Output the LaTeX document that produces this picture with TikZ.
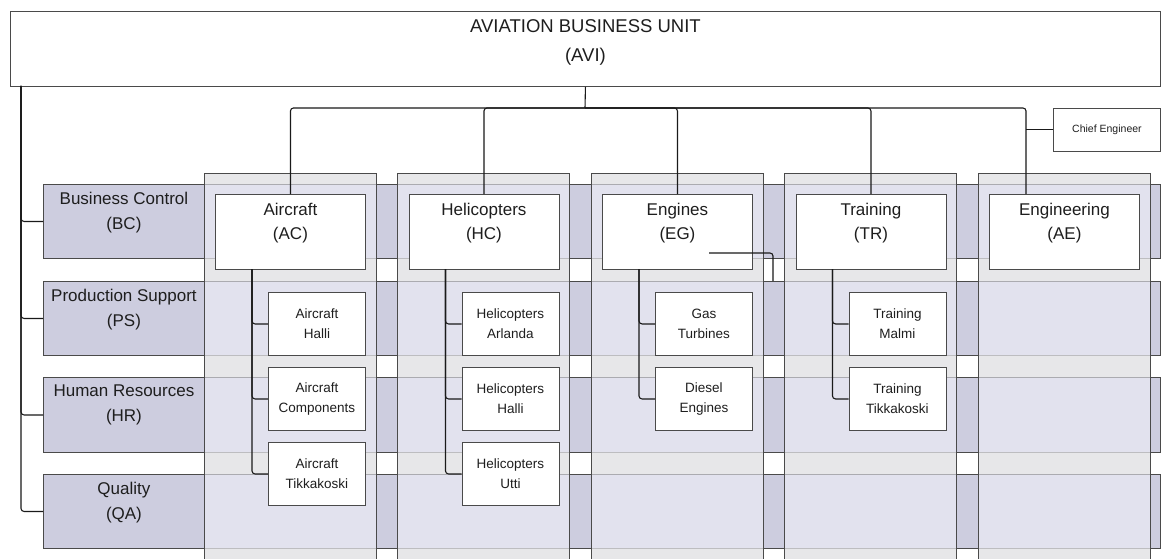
\documentclass[tikz,border=0pt]{standalone}
\usepackage{fontspec}
\setmainfont{Liberation Sans}
\usetikzlibrary{calc}
\definecolor{lineC}{HTML}{4A4A4A}
\definecolor{connC}{HTML}{1A1A1A}
\definecolor{txtC}{HTML}{1E1E1E}
\definecolor{rowC}{HTML}{CDCDDF}
\definecolor{colC}{HTML}{F2F2FA}
\definecolor{gapC}{HTML}{D4D4D4}
\begin{document}
\begin{tikzpicture}[x=1pt,y=-1pt,
  every node/.style={text=txtC},
  boxline/.style={draw=lineC, line width=0.9pt},
  avibox/.style={boxline, fill=white, anchor=north west, minimum width=1150pt, minimum height=75pt, inner sep=0pt},
  mainbox/.style={boxline, fill=white, anchor=north west, minimum width=150pt, minimum height=75pt, inner sep=0pt},
  subbox/.style={boxline, fill=white, anchor=north west, minimum width=97pt, minimum height=63pt, inner sep=0pt, align=center, font=\fontsize{13.5}{20}\selectfont},
  chiefbox/.style={boxline, fill=white, anchor=north west, minimum width=107pt, minimum height=43pt, inner sep=0pt, font=\fontsize{10.5}{12}\selectfont},
  rowlabel/.style={boxline, fill=rowC, anchor=north west, minimum width=161pt, minimum height=74pt, inner sep=0pt},
  rowband/.style={boxline, fill=rowC},
  colpanel/.style={fill=colC, fill opacity=0.58},
  colgap/.style={fill=gapC, fill opacity=0.45},
  coledge/.style={draw=lineC, line width=0.9pt},
  conn/.style={draw=connC, line width=1.1pt, rounded corners=3pt},
  bigtext/.style={anchor=north, inner sep=0pt, align=center, font=\fontsize{18.5}{29}\selectfont},
  maintext/.style={anchor=north, inner sep=0pt, align=center, font=\fontsize{17}{24}\selectfont},
  rowtext/.style={anchor=north, inner sep=0pt, align=center, font=\fontsize{17}{25}\selectfont},
]
\useasboundingbox (0,0) rectangle (1161,559);
\fill[white] (0,0) rectangle (1161,559);

% row bands
\foreach \y/\h in {184/74,281/74,377/75,474/74}
  \path[rowband] (43,\y) rectangle (1160,\y+\h);

% row labels
\node[rowlabel] (bc) at (43,184) {};
\node[rowtext] (bc-t) at ($(bc.north)+(0,7.6)$) {Business Control\\(BC)};
\node[rowlabel] (ps) at (43,281) {};
\node[rowtext] (ps-t) at ($(ps.north)+(0,7.6)$) {Production Support\\(PS)};
\node[rowlabel, minimum height=75pt] (hr) at (43,377) {};
\node[rowtext] (hr-t) at ($(hr.north)+(0,7.6)$) {Human Resources\\(HR)};
\node[rowlabel] (qa) at (43,474) {};
\node[rowtext] (qa-t) at ($(qa.north)+(0,7.6)$) {Quality\\(QA)};

% column panels
\foreach \x in {204,397.5,591,784.5,978} {
  \path[colpanel] (\x,173) rectangle (\x+172,562);
  \foreach \a/\b in {173/184,258/281,355/377,452/474,548/562}
    \path[colgap] (\x,\a) rectangle (\x+172,\b);
  \draw[coledge] (\x,562) -- (\x,173) -- (\x+172,173) -- (\x+172,562);
}

% top unit
\node[avibox] (avi) at (10,11) {};
\node[bigtext] (avi-t) at ($(avi.north)+(0,8.8)$) {AVIATION BUSINESS UNIT\\(AVI)};
\node[chiefbox] (ce) at (1053,108) {Chief Engineer};

% main boxes
\node[mainbox] (ac) at (215,194) {};
\node[maintext] (ac-t) at ($(ac.north)+(0,8.6)$) {Aircraft\\(AC)};
\node[mainbox] (hc) at (408.5,194) {};
\node[maintext] (hc-t) at ($(hc.north)+(0,8.6)$) {Helicopters\\(HC)};
\node[mainbox] (eg) at (602,194) {};
\node[maintext] (eg-t) at ($(eg.north)+(0,8.6)$) {Engines\\(EG)};
\node[mainbox] (tr) at (795.5,194) {};
\node[maintext] (tr-t) at ($(tr.north)+(0,8.6)$) {Training\\(TR)};
\node[mainbox] (ae) at (989,194) {};
\node[maintext] (ae-t) at ($(ae.north)+(0,8.6)$) {Engineering\\(AE)};

% top connectors
\coordinate (bus) at (585,108);
\coordinate (aetop) at (1026,194);
\draw[conn] (avi.south) -- (bus);
\foreach \n in {ac,hc,eg,tr} \draw[conn] (\n.north) |- (bus);
\draw[conn] (aetop) |- (bus);
\draw[conn] (ce.west) -- (ce.west -| aetop);

% sub boxes
\node[subbox] (ac1) at (268,292) {Aircraft\\Halli};
\node[subbox] (ac2) at (268,367) {Aircraft\\Components};
\node[subbox] (ac3) at (268,442) {Aircraft\\Tikkakoski};
\node[subbox] (hc1) at (461.5,292) {Helicopters\\Arlanda};
\node[subbox] (hc2) at (461.5,367) {Helicopters\\Halli};
\node[subbox] (hc3) at (461.5,442) {Helicopters\\Utti};
\node[subbox] (eg1) at (655,292) {Gas\\Turbines};
\node[subbox] (eg2) at (655,367) {Diesel\\Engines};
\node[subbox] (tr1) at (848.5,292) {Training\\Malmi};
\node[subbox] (tr2) at (848.5,367) {Training\\Tikkakoski};

\coordinate (acv) at (252,269);
\coordinate (hcv) at (445.5,269);
\coordinate (egv) at (639,269);
\coordinate (trv) at (832.5,269);
\foreach \n in {ac1,ac2,ac3} \draw[conn] (acv) |- (\n.west);
\foreach \n in {hc1,hc2,hc3} \draw[conn] (hcv) |- (\n.west);
\foreach \n in {eg1,eg2} \draw[conn] (egv) |- (\n.west);
\foreach \n in {tr1,tr2} \draw[conn] (trv) |- (\n.west);

% engines side link
\coordinate (egx) at (709,253);
\coordinate (egend) at (773,281);
\draw[conn] (egx) -| (egend);

% left spine
\coordinate (spine) at (21,86);
\foreach \n in {bc,ps,hr,qa} \draw[conn] (spine) |- (\n.west);
\end{tikzpicture}
\end{document}
